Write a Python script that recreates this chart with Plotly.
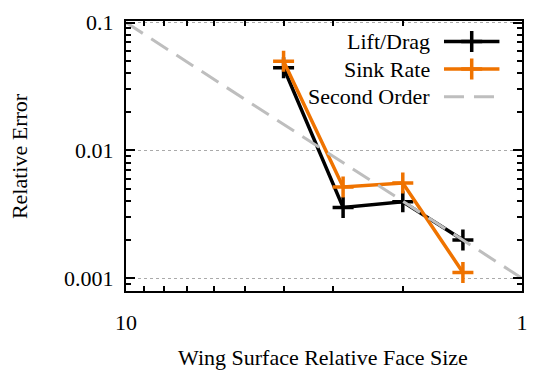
import plotly.graph_objects as go

# Relative face size of the wing surface mesh (coarse -> fine)
face_size = [4.0, 2.83, 2.0, 1.41]
lift_drag_err = [0.0443, 0.00358, 0.00396, 0.00199]
sink_rate_err = [0.0497, 0.00518, 0.00556, 0.00111]

# Reference slope for second-order convergence
second_order_x = [10.0, 1.0]
second_order_y = [0.1, 0.001]

series_names = ["Lift/Drag", "Sink Rate", "Second Order"]
y_tick_vals = [0.001, 0.01, 0.1]
y_tick_text = ["0.001", "0.01", "0.1"]
x_tick_vals = [10, 1]
x_tick_text = ["10", "1"]

BLACK = "#000000"
ORANGE = "#EF7300"
GRAY = "#BEBEBE"
FONT = "Liberation Serif, Times New Roman, DejaVu Serif, serif"
FS = 22

fig = go.Figure()

fig.add_trace(go.Scatter(
    x=face_size, y=lift_drag_err, mode="lines+markers", name=series_names[0],
    line=dict(color=BLACK, width=3.5),
    marker=dict(color=BLACK, symbol="cross-thin", size=15,
                line=dict(color=BLACK, width=3.5)),
))
fig.add_trace(go.Scatter(
    x=face_size, y=sink_rate_err, mode="lines+markers", name=series_names[1],
    line=dict(color=ORANGE, width=3.5),
    marker=dict(color=ORANGE, symbol="cross-thin", size=15,
                line=dict(color=ORANGE, width=3.5)),
))
fig.add_trace(go.Scatter(
    x=second_order_x, y=second_order_y, mode="lines", name=series_names[2],
    line=dict(color=GRAY, width=3, dash="20px,10px"),
))

# Key drawn inside the plot area (text right-aligned, sample on the right)
key_rows = [0.924, 0.822, 0.7195]
key_x0, key_xm, key_x1 = 0.803, 0.873, 0.943
key_styles = [
    dict(color=BLACK, width=3.5, dash="solid", marker=True),
    dict(color=ORANGE, width=3.5, dash="solid", marker=True),
    dict(color=GRAY, width=3, dash="20px,10px", marker=False),
]
for name, yy, st in zip(series_names, key_rows, key_styles):
    fig.add_trace(go.Scatter(
        x=[key_x0, key_x1], y=[yy, yy], mode="lines", xaxis="x2", yaxis="y2",
        line=dict(color=st["color"], width=st["width"], dash=st["dash"]),
        showlegend=False, hoverinfo="skip",
    ))
    if st["marker"]:
        fig.add_trace(go.Scatter(
            x=[key_xm], y=[yy], mode="markers", xaxis="x2", yaxis="y2",
            marker=dict(color=st["color"], symbol="cross-thin", size=15,
                        line=dict(color=st["color"], width=3.5)),
            showlegend=False, hoverinfo="skip",
        ))
    fig.add_annotation(
        text=name, xref="paper", yref="paper", x=0.7726, y=yy,
        xanchor="right", yanchor="middle", showarrow=False,
        font=dict(family=FONT, size=FS, color=BLACK),
    )

# Axis titles
fig.add_annotation(
    text="Wing Surface Relative Face Size", xref="paper", yref="paper",
    x=0.497, y=-0.245, xanchor="center", yanchor="middle", showarrow=False,
    font=dict(family=FONT, size=FS, color=BLACK),
)
fig.add_annotation(
    text="Relative Error", xref="paper", yref="paper",
    x=-0.270, y=0.5, xanchor="center", yanchor="middle", showarrow=False,
    textangle=-90, font=dict(family=FONT, size=FS, color=BLACK),
)

x_minor = [9, 8, 7, 6, 5, 4, 3, 2]
y_minor = [m * d for d in (0.0001, 0.001, 0.01) for m in range(2, 10)]
y_minor = [v for v in y_minor if v >= 0.0009]

fig.update_layout(
    width=538, height=373,
    margin=dict(l=126, r=10, t=14, b=82),
    paper_bgcolor="white", plot_bgcolor="white",
    showlegend=False,
    font=dict(family=FONT, size=FS, color=BLACK),
    xaxis=dict(
        type="log", range=[1, 0], autorange=False,
        tickmode="array", tickvals=x_tick_vals, ticktext=x_tick_text,
        ticks="inside", ticklen=9, tickwidth=1.5, tickcolor=BLACK,
        showline=True, linecolor=BLACK, linewidth=2, mirror="allticks",
        showgrid=False, zeroline=False, ticklabelstandoff=11,
        tickfont=dict(family=FONT, size=FS, color=BLACK),
        minor=dict(tickmode="array", tickvals=x_minor, ticks="inside",
                   ticklen=5, tickwidth=1.5, tickcolor=BLACK, showgrid=False),
    ),
    yaxis=dict(
        type="log", range=[-3.1, -0.988], autorange=False,
        tickmode="array", tickvals=y_tick_vals, ticktext=y_tick_text,
        ticks="inside", ticklen=9, tickwidth=1.5, tickcolor=BLACK,
        showline=True, linecolor=BLACK, linewidth=2, mirror="allticks",
        showgrid=True, gridcolor="#AAAAAA", gridwidth=1, griddash="dot",
        zeroline=False, ticklabelstandoff=6,
        tickfont=dict(family=FONT, size=FS, color=BLACK),
        minor=dict(tickmode="array", tickvals=y_minor, ticks="inside",
                   ticklen=5, tickwidth=1.5, tickcolor=BLACK, showgrid=False),
    ),
    xaxis2=dict(overlaying="x", anchor="y2", range=[0, 1], visible=False),
    yaxis2=dict(overlaying="y", anchor="x2", range=[0, 1], visible=False),
)

fig.write_html("out.html")
